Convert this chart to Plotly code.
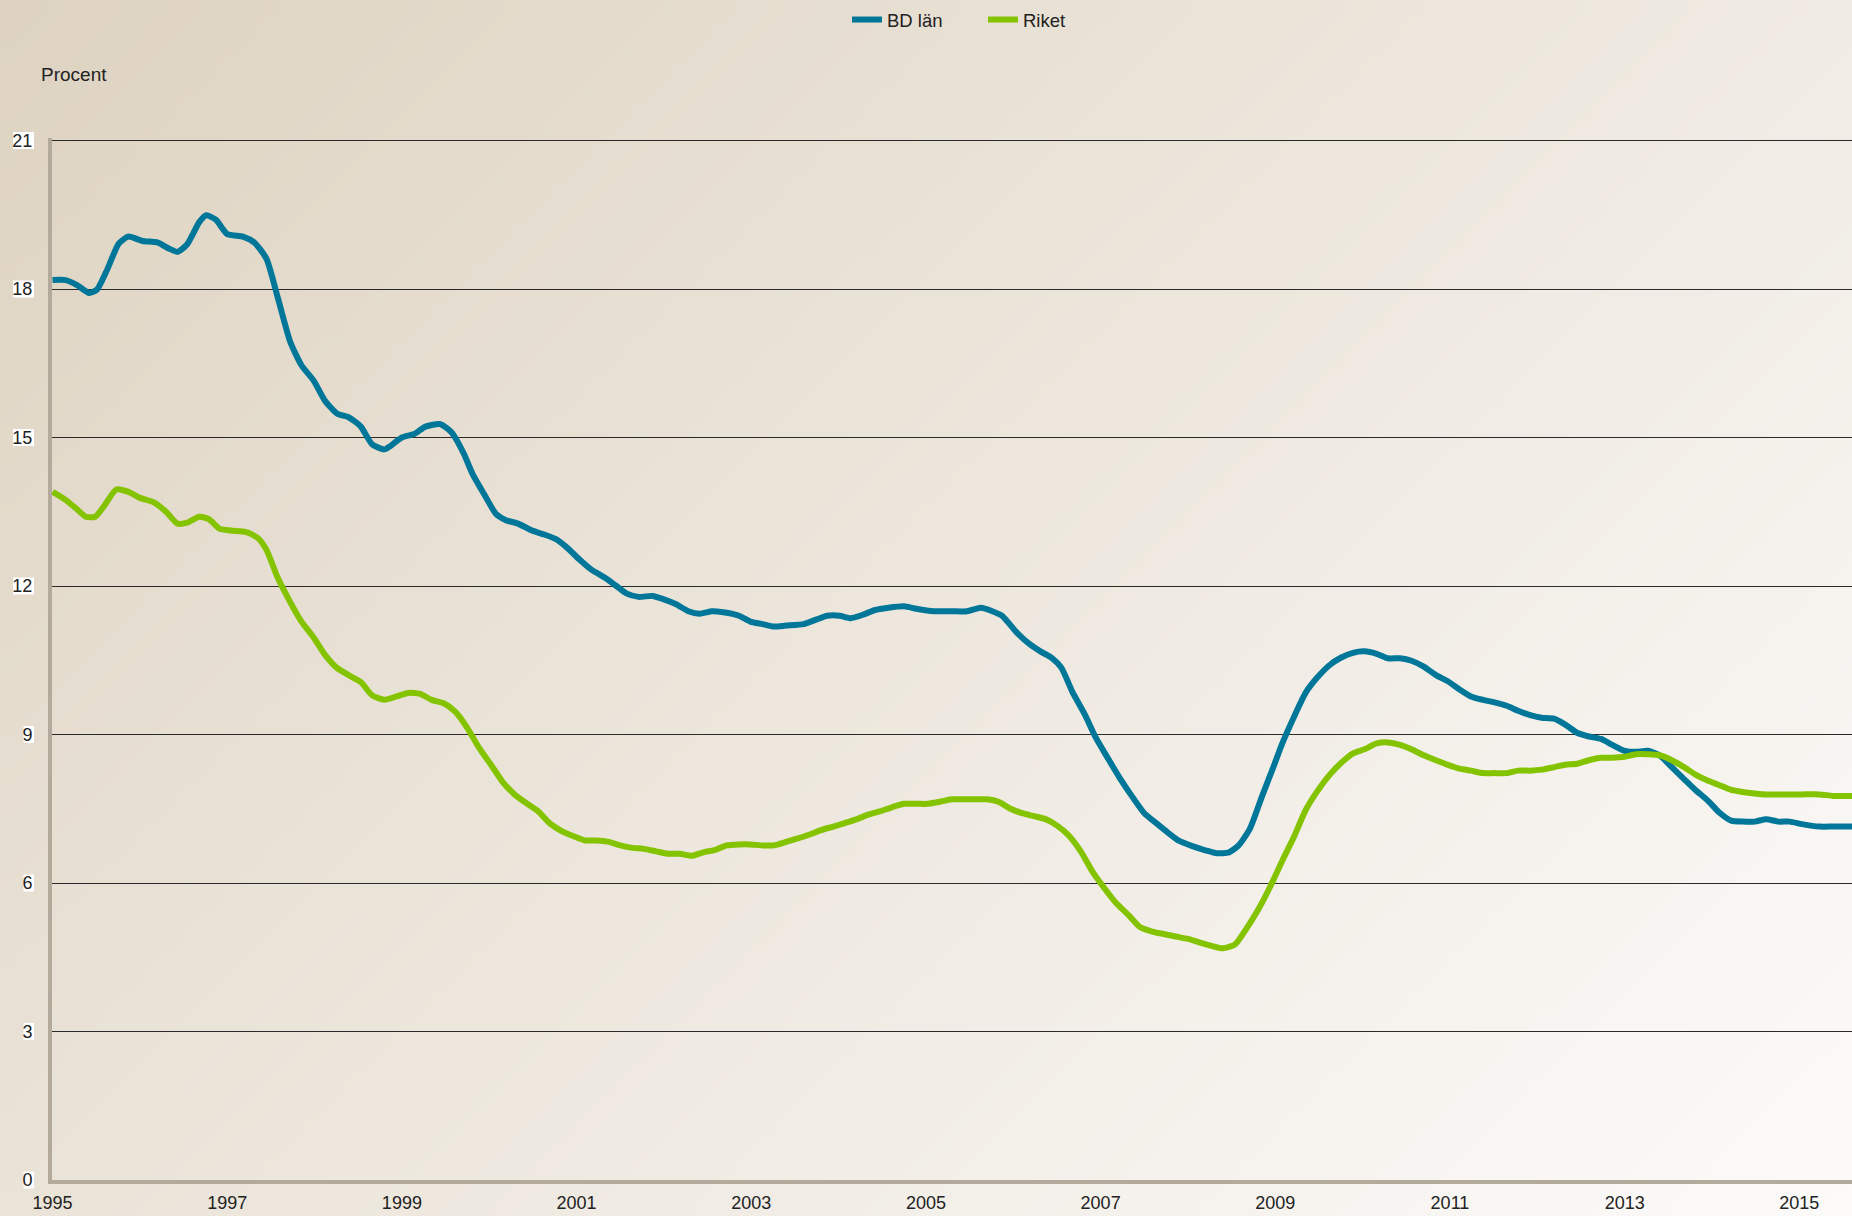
import base64
import struct
import zlib

import plotly.graph_objects as go

# ---------------- data ----------------
bd_years = [
    1995.00, 1995.15, 1995.28, 1995.42, 1995.51, 1995.62, 1995.76, 1995.87, 1996.03, 1996.20,
    1996.33, 1996.43, 1996.54, 1996.68, 1996.76, 1996.87, 1997.00, 1997.18, 1997.31, 1997.45,
    1997.58, 1997.72, 1997.85, 1997.99, 1998.12, 1998.26, 1998.39, 1998.53, 1998.66, 1998.80,
    1998.87, 1999.00, 1999.14, 1999.27, 1999.44, 1999.57, 1999.71, 1999.81, 1999.95, 2000.08,
    2000.19, 2000.33, 2000.49, 2000.63, 2000.76, 2000.90, 2001.03, 2001.17, 2001.33, 2001.44,
    2001.57, 2001.71, 2001.87, 2002.00, 2002.14, 2002.28, 2002.41, 2002.55, 2002.68, 2002.86,
    2002.99, 2003.13, 2003.26, 2003.40, 2003.60, 2003.74, 2003.87, 2004.01, 2004.14, 2004.28,
    2004.41, 2004.57, 2004.75, 2004.89, 2005.09, 2005.29, 2005.47, 2005.63, 2005.76, 2005.87,
    2006.03, 2006.17, 2006.31, 2006.44, 2006.55, 2006.68, 2006.82, 2006.95, 2007.09, 2007.22,
    2007.36, 2007.50, 2007.63, 2007.77, 2007.90, 2008.06, 2008.20, 2008.33, 2008.47, 2008.58,
    2008.71, 2008.85, 2008.98, 2009.08, 2009.21, 2009.35, 2009.48, 2009.62, 2009.75, 2009.89,
    2010.02, 2010.16, 2010.29, 2010.43, 2010.56, 2010.70, 2010.84, 2010.97, 2011.11, 2011.24,
    2011.38, 2011.51, 2011.65, 2011.78, 2011.92, 2012.05, 2012.19, 2012.32, 2012.46, 2012.59,
    2012.73, 2012.86, 2013.00, 2013.13, 2013.27, 2013.40, 2013.54, 2013.68, 2013.81, 2013.95,
    2014.08, 2014.22, 2014.35, 2014.49, 2014.62, 2014.76, 2014.89, 2015.03, 2015.23, 2015.39,
    2015.61,
]
bd_values = [
    18.18, 18.18, 18.08, 17.92, 17.99, 18.37, 18.92, 19.06, 18.97, 18.94,
    18.82, 18.75, 18.90, 19.35, 19.49, 19.40, 19.11, 19.06, 18.94, 18.61,
    17.82, 16.94, 16.46, 16.15, 15.74, 15.48, 15.41, 15.22, 14.86, 14.76,
    14.83, 15.00, 15.07, 15.22, 15.27, 15.10, 14.67, 14.26, 13.83, 13.45,
    13.33, 13.26, 13.12, 13.04, 12.95, 12.76, 12.54, 12.33, 12.16, 12.02,
    11.85, 11.78, 11.80, 11.73, 11.63, 11.49, 11.44, 11.49, 11.47, 11.40,
    11.28, 11.23, 11.18, 11.20, 11.23, 11.32, 11.40, 11.40, 11.35, 11.42,
    11.51, 11.56, 11.59, 11.54, 11.49, 11.49, 11.49, 11.56, 11.49, 11.40,
    11.08, 10.85, 10.68, 10.55, 10.35, 9.85, 9.40, 8.92, 8.50, 8.12,
    7.75, 7.41, 7.22, 7.02, 6.85, 6.74, 6.66, 6.60, 6.62, 6.76,
    7.10, 7.76, 8.35, 8.82, 9.34, 9.85, 10.15, 10.40, 10.55, 10.65,
    10.68, 10.63, 10.54, 10.54, 10.49, 10.37, 10.20, 10.08, 9.91, 9.77,
    9.70, 9.65, 9.58, 9.48, 9.39, 9.34, 9.32, 9.20, 9.03, 8.96,
    8.91, 8.79, 8.67, 8.65, 8.67, 8.58, 8.34, 8.10, 7.88, 7.67,
    7.43, 7.26, 7.24, 7.24, 7.29, 7.24, 7.24, 7.19, 7.14, 7.14,
    7.14,
]

riket_years = [
    1995.00, 1995.15, 1995.28, 1995.38, 1995.49, 1995.60, 1995.73, 1995.87, 1996.00, 1996.16,
    1996.30, 1996.43, 1996.54, 1996.68, 1996.79, 1996.91, 1997.04, 1997.22, 1997.35, 1997.45,
    1997.58, 1997.72, 1997.85, 1997.99, 1998.12, 1998.26, 1998.39, 1998.53, 1998.66, 1998.80,
    1998.94, 1999.07, 1999.21, 1999.34, 1999.48, 1999.61, 1999.75, 1999.88, 2000.02, 2000.15,
    2000.29, 2000.42, 2000.56, 2000.69, 2000.83, 2000.96, 2001.10, 2001.23, 2001.37, 2001.50,
    2001.64, 2001.77, 2001.91, 2002.05, 2002.18, 2002.32, 2002.45, 2002.59, 2002.72, 2002.86,
    2002.99, 2003.13, 2003.26, 2003.40, 2003.53, 2003.67, 2003.80, 2003.94, 2004.07, 2004.21,
    2004.34, 2004.48, 2004.61, 2004.75, 2004.89, 2005.02, 2005.16, 2005.29, 2005.43, 2005.56,
    2005.70, 2005.83, 2005.97, 2006.10, 2006.24, 2006.37, 2006.51, 2006.64, 2006.78, 2006.91,
    2007.05, 2007.18, 2007.32, 2007.45, 2007.59, 2007.72, 2007.86, 2008.00, 2008.13, 2008.27,
    2008.40, 2008.54, 2008.67, 2008.81, 2008.94, 2009.08, 2009.21, 2009.35, 2009.48, 2009.62,
    2009.75, 2009.89, 2010.02, 2010.16, 2010.29, 2010.43, 2010.56, 2010.70, 2010.84, 2010.97,
    2011.11, 2011.24, 2011.38, 2011.51, 2011.65, 2011.78, 2011.92, 2012.05, 2012.19, 2012.32,
    2012.46, 2012.59, 2012.73, 2012.86, 2013.00, 2013.13, 2013.27, 2013.40, 2013.54, 2013.68,
    2013.81, 2013.95, 2014.08, 2014.22, 2014.35, 2014.49, 2014.62, 2014.76, 2014.89, 2015.03,
    2015.23, 2015.39, 2015.61,
]
riket_values = [
    13.90, 13.74, 13.55, 13.40, 13.40, 13.64, 13.95, 13.90, 13.78, 13.69,
    13.50, 13.26, 13.28, 13.40, 13.35, 13.16, 13.12, 13.09, 12.97, 12.73,
    12.16, 11.68, 11.28, 10.96, 10.61, 10.34, 10.20, 10.06, 9.79, 9.70,
    9.77, 9.84, 9.82, 9.70, 9.63, 9.46, 9.13, 8.74, 8.39, 8.05,
    7.79, 7.62, 7.45, 7.21, 7.05, 6.95, 6.86, 6.86, 6.83, 6.76,
    6.71, 6.69, 6.64, 6.59, 6.59, 6.55, 6.62, 6.67, 6.76, 6.78,
    6.78, 6.76, 6.76, 6.83, 6.90, 6.98, 7.07, 7.14, 7.21, 7.29,
    7.38, 7.45, 7.53, 7.60, 7.60, 7.60, 7.64, 7.69, 7.69, 7.69,
    7.69, 7.64, 7.50, 7.41, 7.35, 7.29, 7.15, 6.95, 6.62, 6.22,
    5.88, 5.59, 5.35, 5.11, 5.02, 4.97, 4.92, 4.87, 4.80, 4.73,
    4.68, 4.76, 5.08, 5.48, 5.92, 6.45, 6.92, 7.48, 7.85, 8.18,
    8.42, 8.62, 8.70, 8.82, 8.84, 8.79, 8.70, 8.58, 8.48, 8.39,
    8.31, 8.27, 8.22, 8.22, 8.22, 8.27, 8.27, 8.29, 8.34, 8.39,
    8.41, 8.48, 8.53, 8.53, 8.55, 8.60, 8.60, 8.58, 8.48, 8.34,
    8.19, 8.07, 7.98, 7.88, 7.84, 7.81, 7.79, 7.79, 7.79, 7.79,
    7.79, 7.76, 7.76,
]

series_names = ["BD län", "Riket"]
y_tick_values = [0, 3, 6, 9, 12, 15, 18, 21]
x_tick_values = [1995, 1997, 1999, 2001, 2003, 2005, 2007, 2009, 2011, 2013, 2015]
y_axis_title = "Procent"

# ---------------- styling ----------------
W, H = 1852, 1216
ML, MR, MT, MB = 52, 0, 138, 36
PW, PH = W - ML - MR, H - MT - MB
Y_RANGE = [0, 21 + 2.5 / 49.5]
X_RANGE = [1994.994, 2015.603]
FONT = "Liberation Sans, Arial, sans-serif"
TXT = "#222222"
BLUE = "#007699"
GREEN = "#84c300"
AXIS = "#b4aa9b"


def gradient_png(w, h, c0, c1):
    rows = []
    for j in range(h):
        row = bytearray([0])
        for i in range(w):
            t = (i / (w - 1) * W + j / (h - 1) * H) / (W + H)
            for k in range(3):
                row.append(int(round(c0[k] + (c1[k] - c0[k]) * t)))
        rows.append(bytes(row))
    raw = b"".join(rows)

    def chunk(tag, data):
        c = struct.pack(">I", len(data)) + tag + data
        return c + struct.pack(">I", zlib.crc32(tag + data) & 0xFFFFFFFF)

    png = b"\x89PNG\r\n\x1a\n"
    png += chunk(b"IHDR", struct.pack(">IIBBBBB", w, h, 8, 2, 0, 0, 0))
    png += chunk(b"IDAT", zlib.compress(raw, 9))
    png += chunk(b"IEND", b"")
    return "data:image/png;base64," + base64.b64encode(png).decode()


bg_src = gradient_png(186, 122, (222, 211, 193), (252, 251, 250))

fig = go.Figure()
fig.add_trace(go.Scatter(
    x=bd_years, y=bd_values, name=series_names[0], mode="lines",
    line=dict(color=BLUE, width=6, shape="spline", smoothing=0.6),
))
fig.add_trace(go.Scatter(
    x=riket_years, y=riket_values, name=series_names[1], mode="lines",
    line=dict(color=GREEN, width=6, shape="spline", smoothing=0.6),
))


def y_paper(v):
    return (v - Y_RANGE[0]) / (Y_RANGE[1] - Y_RANGE[0])


# white boxes behind the y tick labels
shapes = []
for v in y_tick_values:
    wpx = 10.5 * len(str(v))
    shapes.append(dict(
        type="rect", xref="paper", yref="paper", layer="below",
        x0=(34 - wpx - ML) / PW, x1=(34 - ML) / PW,
        y0=y_paper(v) - 8.5 / PH, y1=y_paper(v) + 8.5 / PH,
        fillcolor="white", line=dict(width=0),
    ))

fig.update_layout(
    width=W, height=H,
    margin=dict(l=ML, r=MR, t=MT, b=MB, pad=0),
    paper_bgcolor="#ece5dc",
    plot_bgcolor="rgba(0,0,0,0)",
    font=dict(family=FONT, size=18, color=TXT),
    showlegend=True,
    legend=dict(
        orientation="h", x=(847 - ML) / PW, xanchor="left",
        y=1 + (MT - 20) / PH, yanchor="middle",
        font=dict(size=18.5, color=TXT), bgcolor="rgba(0,0,0,0)",
        itemwidth=30, entrywidth=91, entrywidthmode="pixels",
    ),
    xaxis=dict(
        range=X_RANGE,
        tickmode="array", tickvals=x_tick_values, ticktext=[str(v) for v in x_tick_values],
        showgrid=False, zeroline=False,
        showline=True, linecolor=AXIS, linewidth=4,
        ticks="", ticklabelstandoff=3,
        tickfont=dict(size=18, color=TXT),
    ),
    yaxis=dict(
        range=Y_RANGE,
        tickmode="array", tickvals=y_tick_values,
        showgrid=True, gridcolor="#2a2a2a", gridwidth=1,
        zeroline=False,
        showline=True, linecolor=AXIS, linewidth=4,
        ticks="", ticklabelstandoff=12,
        tickfont=dict(size=18, color=TXT),
    ),
    images=[dict(
        source=bg_src, xref="paper", yref="paper",
        x=-ML / PW, y=1 + MT / PH, sizex=W / PW, sizey=H / PH,
        xanchor="left", yanchor="top", sizing="stretch", layer="below", opacity=1,
    )],
    shapes=shapes,
    annotations=[dict(
        text=y_axis_title, xref="paper", yref="paper",
        x=(39 - ML) / PW, y=1 + (MT - 74) / PH, xanchor="left", yanchor="middle",
        showarrow=False, font=dict(size=19, color=TXT),
    )],
    hovermode=False,
)

fig.write_html(
    "out.html",
    config={"displayModeBar": False},
    post_script="document.body.style.margin='0';document.body.style.overflow='hidden';",
)
